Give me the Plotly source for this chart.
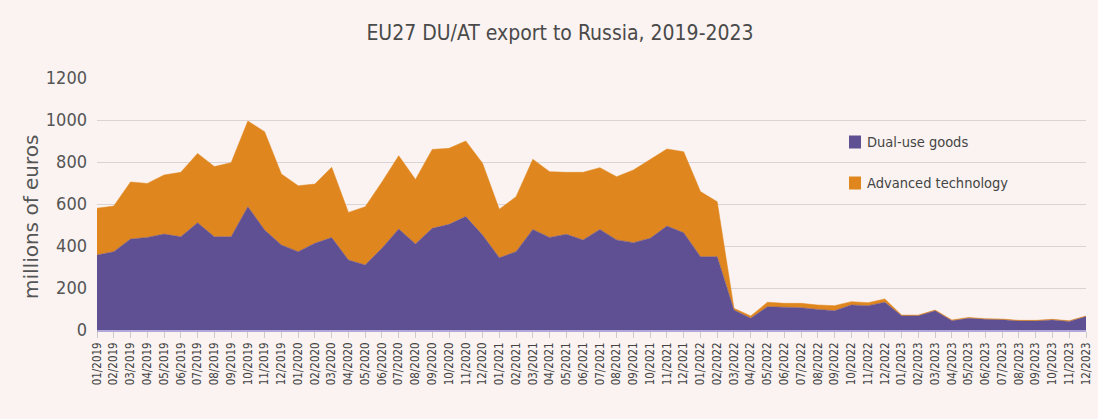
import plotly.graph_objects as go

months = [f"{m:02d}/{y}" for y in range(2019, 2024) for m in range(1, 13)]

dual_use = [357, 373, 433, 441, 457, 444, 511, 444, 444, 587, 476, 405,
            373, 413, 440, 333, 310, 389, 481, 410, 484, 503, 540, 452,
            344, 373, 479, 441, 456, 429, 479, 429, 416, 437, 495, 463,
            349, 349, 95, 56, 111, 108, 106, 98, 92, 119, 116, 132,
            68, 68, 92, 44, 56, 51, 49, 43, 43, 48, 41, 64]

total = [580, 590, 705, 698, 738, 751, 841, 778, 797, 995, 944, 743,
         687, 695, 775, 560, 587, 705, 830, 717, 860, 865, 900, 794,
         575, 635, 813, 754, 751, 751, 773, 730, 762, 810, 862, 849,
         659, 611, 103, 67, 132, 127, 127, 119, 116, 135, 130, 148,
         71, 71, 95, 48, 60, 54, 52, 46, 46, 51, 44, 67]

advanced = [t - d for t, d in zip(total, dual_use)]

PURPLE = "#5F5094"
ORANGE = "#E0861E"
BG = "#FAF3F1"
TXT = "#555555"
COND = "DejaVu Sans Condensed"

L, R, T, B = 97, 12, 78, 89
PW = 1098 - L - R
PH = 419 - T - B

fig = go.Figure()
fig.add_trace(go.Scatter(x=months, y=dual_use, name="Dual-use goods",
                         stackgroup="one", mode="lines",
                         line=dict(color=PURPLE, width=0.5),
                         fillcolor=PURPLE, showlegend=False))
fig.add_trace(go.Scatter(x=months, y=advanced, name="Advanced technology",
                         stackgroup="one", mode="lines",
                         line=dict(color=ORANGE, width=0.5),
                         fillcolor=ORANGE, showlegend=False))

fig.update_layout(
    width=1098, height=419,
    paper_bgcolor=BG, plot_bgcolor=BG,
    margin=dict(l=L, r=R, t=T, b=B),
    title=dict(text="EU27 DU/AT export to Russia, 2019-2023",
               x=0.51, xanchor="center", y=0.922, yanchor="middle",
               font=dict(family=COND, size=21, color="#4a4a4a")),
    xaxis=dict(type="category", tickmode="array", tickvals=months, ticktext=months,
               tickangle=-90, range=[0, 59], showgrid=False, automargin=False,
               ticks="outside", ticklen=6, tickcolor="#cfcaca",
               showline=True, linecolor="#b0a8d8", linewidth=1.5,
               tickfont=dict(family=COND, size=11.5, color="#444444"),
               zeroline=False),
    yaxis=dict(range=[0, 1200], tickvals=[0, 200, 400, 600, 800, 1000, 1200],
               showgrid=True, gridcolor="#d9d3d3", gridwidth=1, automargin=False,
               zeroline=False, ticks="", ticklabelstandoff=9,
               tickfont=dict(family=COND, size=18, color=TXT)),
)

# y-axis title placed to match the reference
fig.add_annotation(text="millions of euros", xref="paper", yref="paper",
                   x=(31 - L) / PW, y=1 - (217 - T) / PH, textangle=-90,
                   xanchor="center", yanchor="middle", showarrow=False,
                   font=dict(family="DejaVu Sans", size=20, color=TXT))

# legend drawn manually to match the layout
legend_items = [("Dual-use goods", PURPLE, 142), ("Advanced technology", ORANGE, 183)]
for label, col, ypx in legend_items:
    yp = 1 - (ypx - T) / PH
    fig.add_shape(type="rect", xref="paper", yref="paper",
                  x0=(849 - L) / PW, x1=(861 - L) / PW,
                  y0=yp - 6.5 / PH, y1=yp + 6.5 / PH,
                  fillcolor=col, line=dict(width=0))
    fig.add_annotation(text=label, xref="paper", yref="paper",
                       x=(865 - L) / PW, y=yp, xanchor="left", yanchor="middle",
                       showarrow=False,
                       font=dict(family=COND, size=14.5, color="#444444"))

fig.write_html("out.html", config={"displayModeBar": False},
               post_script="document.body.style.margin='0px';"
                           "document.body.style.background='#FAF3F1';")
